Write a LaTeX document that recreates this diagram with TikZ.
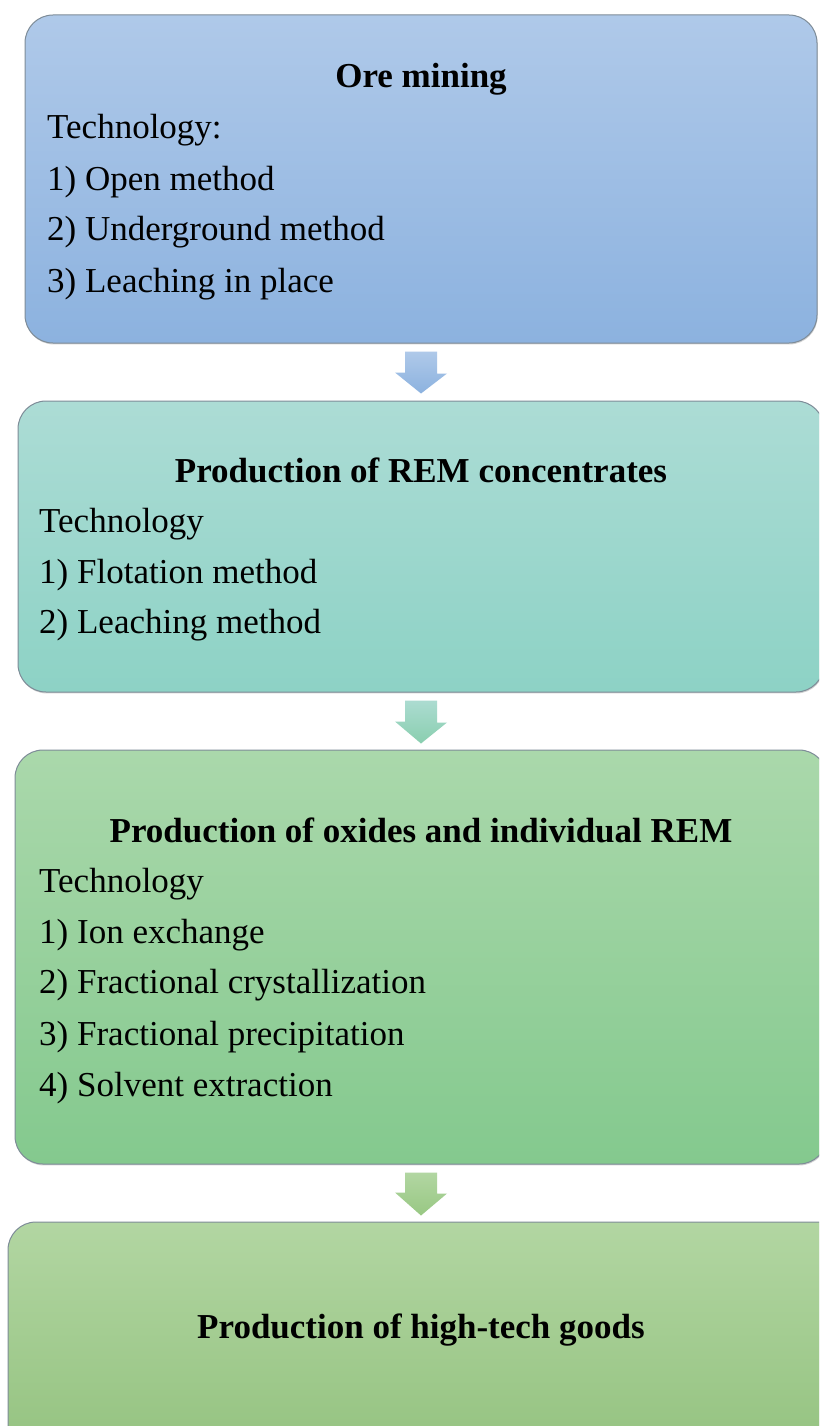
\documentclass[tikz,border=0pt]{standalone}
\usepackage{fontspec}
\setmainfont{Liberation Serif}
\usetikzlibrary{calc,shadows}
\definecolor{bAtop}{HTML}{AFC9E9}
\definecolor{bAbot}{HTML}{8CB2DF}
\definecolor{bBtop}{HTML}{ACDCD5}
\definecolor{bBbot}{HTML}{8DD2C5}
\definecolor{bCtop}{HTML}{AAD8AB}
\definecolor{bCbot}{HTML}{84C98E}
\definecolor{bDtop}{HTML}{B2D6A2}
\definecolor{bDbot}{HTML}{98C883}
\definecolor{edge}{HTML}{7E8C98}
\tikzset{
  stagebox/.style={draw=edge, line width=1pt, rounded corners=28pt, inner sep=0pt,
    drop shadow={shadow xshift=0.6pt, shadow yshift=-1.4pt, opacity=0.35}},
  title/.style={anchor=base, inner sep=0pt, font=\fontsize{35}{42}\selectfont\bfseries},
  item/.style={anchor=base west, inner sep=0pt, font=\fontsize{35}{42}\selectfont},
  arrA/.style={top color=bAtop, bottom color=bAbot, draw=none},
  arrB/.style={top color=bBtop!90!bCtop, bottom color=bBbot!60!bCbot, draw=none},
  arrC/.style={top color=bDtop, bottom color=bDbot, draw=none},
}
\begin{document}
\begin{tikzpicture}[x=1pt,y=-1pt]
\useasboundingbox (0,0) rectangle (819,1426);
\clip (0,0) rectangle (819,1426);
\fill[white] (0,0) rectangle (819,1426);

% boxes
\node[stagebox, top color=bAtop, bottom color=bAbot, minimum width=792pt, minimum height=328pt] (b1) at (421,179) {};
\node[stagebox, top color=bBtop, bottom color=bBbot, minimum width=806pt, minimum height=291pt] (b2) at (421,546.5) {};
\node[stagebox, top color=bCtop, bottom color=bCbot, minimum width=812pt, minimum height=414pt] (b3) at (421,957) {};
\node[stagebox, top color=bDtop, bottom color=bDbot!97!black, minimum width=842pt, minimum height=238pt] (b4) at (429,1341) {};

% arrows
\shade[arrA] ($(b1.south)+(-16,8)$) -- ++(32,0) -- ++(0,22) -- ++(10,0)
  -- ($(b2.north)+(0,-7)$) -- ($(b2.north)+(-26,-28)$) -- ++(10,0) -- cycle;
\shade[arrB] ($(b2.south)+(-16,8)$) -- ++(32,0) -- ++(0,22) -- ++(10,0)
  -- ($(b3.north)+(0,-6)$) -- ($(b3.north)+(-26,-28)$) -- ++(10,0) -- cycle;
\coordinate (t4) at ($(b4.north)+(-8,-6)$);
\shade[arrC] ($(b3.south)+(-16,8)$) -- ++(32,0) -- ++(0,21) -- ++(10,0)
  -- (t4) -- ($(t4)+(-26,-23)$) -- ++(10,0) -- cycle;

% box 1 text
\node[title] (t1) at (421,88) {Ore mining};
\node[item] (t1a) at (47,139) {Technology:};
\node[item] (t1b) at (47,190) {1) Open method};
\node[item] (t1c) at (47,240) {2) Underground method};
\node[item] (t1d) at (47,292) {3) Leaching in place};

% box 2 text
\node[title] (t2) at (421,482) {Production of REM concentrates};
\node[item] (t2a) at (39,532) {Technology};
\node[item] (t2b) at (39,583) {1) Flotation method};
\node[item] (t2c) at (39,633) {2) Leaching method};

% box 3 text
\node[title] (t3) at (421,842) {Production of oxides and individual REM};
\node[item] (t3a) at (39,892) {Technology};
\node[item] (t3b) at (39,943) {1) Ion exchange};
\node[item] (t3c) at (39,993) {2) Fractional crystallization};
\node[item] (t3d) at (39,1045) {3) Fractional precipitation};
\node[item] (t3e) at (39,1096) {4) Solvent extraction};

% box 4 text
\node[title] (t4t) at (421,1338) {Production of high-tech goods};
\end{tikzpicture}
\end{document}
